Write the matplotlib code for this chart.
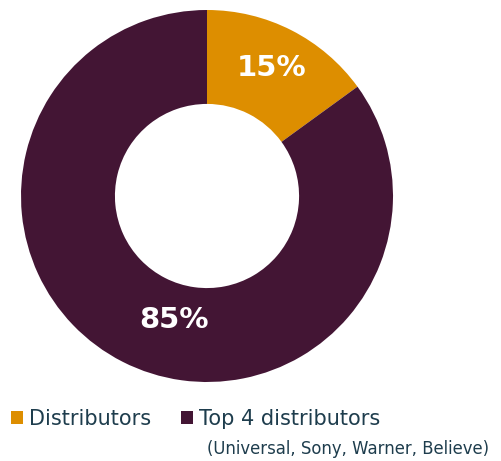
import matplotlib
matplotlib.use("Agg")
import matplotlib.pyplot as plt
import numpy as np
from matplotlib.patches import Patch

# data
labels = ["Distributors", "Top 4 distributors"]
shares = [15, 85]
colors = ["#DD8E00", "#431534"]
note = "(Universal, Sony, Warner, Believe)"

plt.rcParams["font.family"] = ["DejaVu Sans"]
text_col = "#1E3D4D"

fig = plt.figure(figsize=(5.02, 4.61), dpi=100)
W, H = 502, 461
cx, cy, R = 207, 196, 186
ax = fig.add_axes([(cx - R) / W, (H - cy - R) / H, 2 * R / W, 2 * R / H])
ax.pie(shares, colors=colors, startangle=90, counterclock=False,
       wedgeprops=dict(width=0.505, linewidth=0))
ax.set_xlim(-1, 1)
ax.set_ylim(-1, 1)
ax.set_aspect("equal")
ax.axis("off")

# label positions: (angle from top clockwise in deg, radius fraction)
label_pos = [(27, 0.77), (195, 0.69)]
for s, (a, r) in zip(shares, label_pos):
    t = np.deg2rad(a)
    ax.text(r * np.sin(t), r * np.cos(t), f"{s}%", color="white",
            fontsize=21, fontweight="bold", ha="center", va="center")

handles = [Patch(facecolor=c, edgecolor="none") for c in colors]
fig.legend(handles, labels, loc="center left", bbox_to_anchor=(0.022, 1 - 419 / H),
           ncol=2, frameon=False, fontsize=15, handlelength=0.58, handleheight=0.58,
           handletextpad=0.3, columnspacing=1.4, labelcolor=text_col, borderaxespad=0,
           borderpad=0)
fig.text(207 / W, 1 - 449 / H, note, fontsize=11.9, color=text_col, ha="left", va="center")

fig.savefig("out.png", dpi=100)
